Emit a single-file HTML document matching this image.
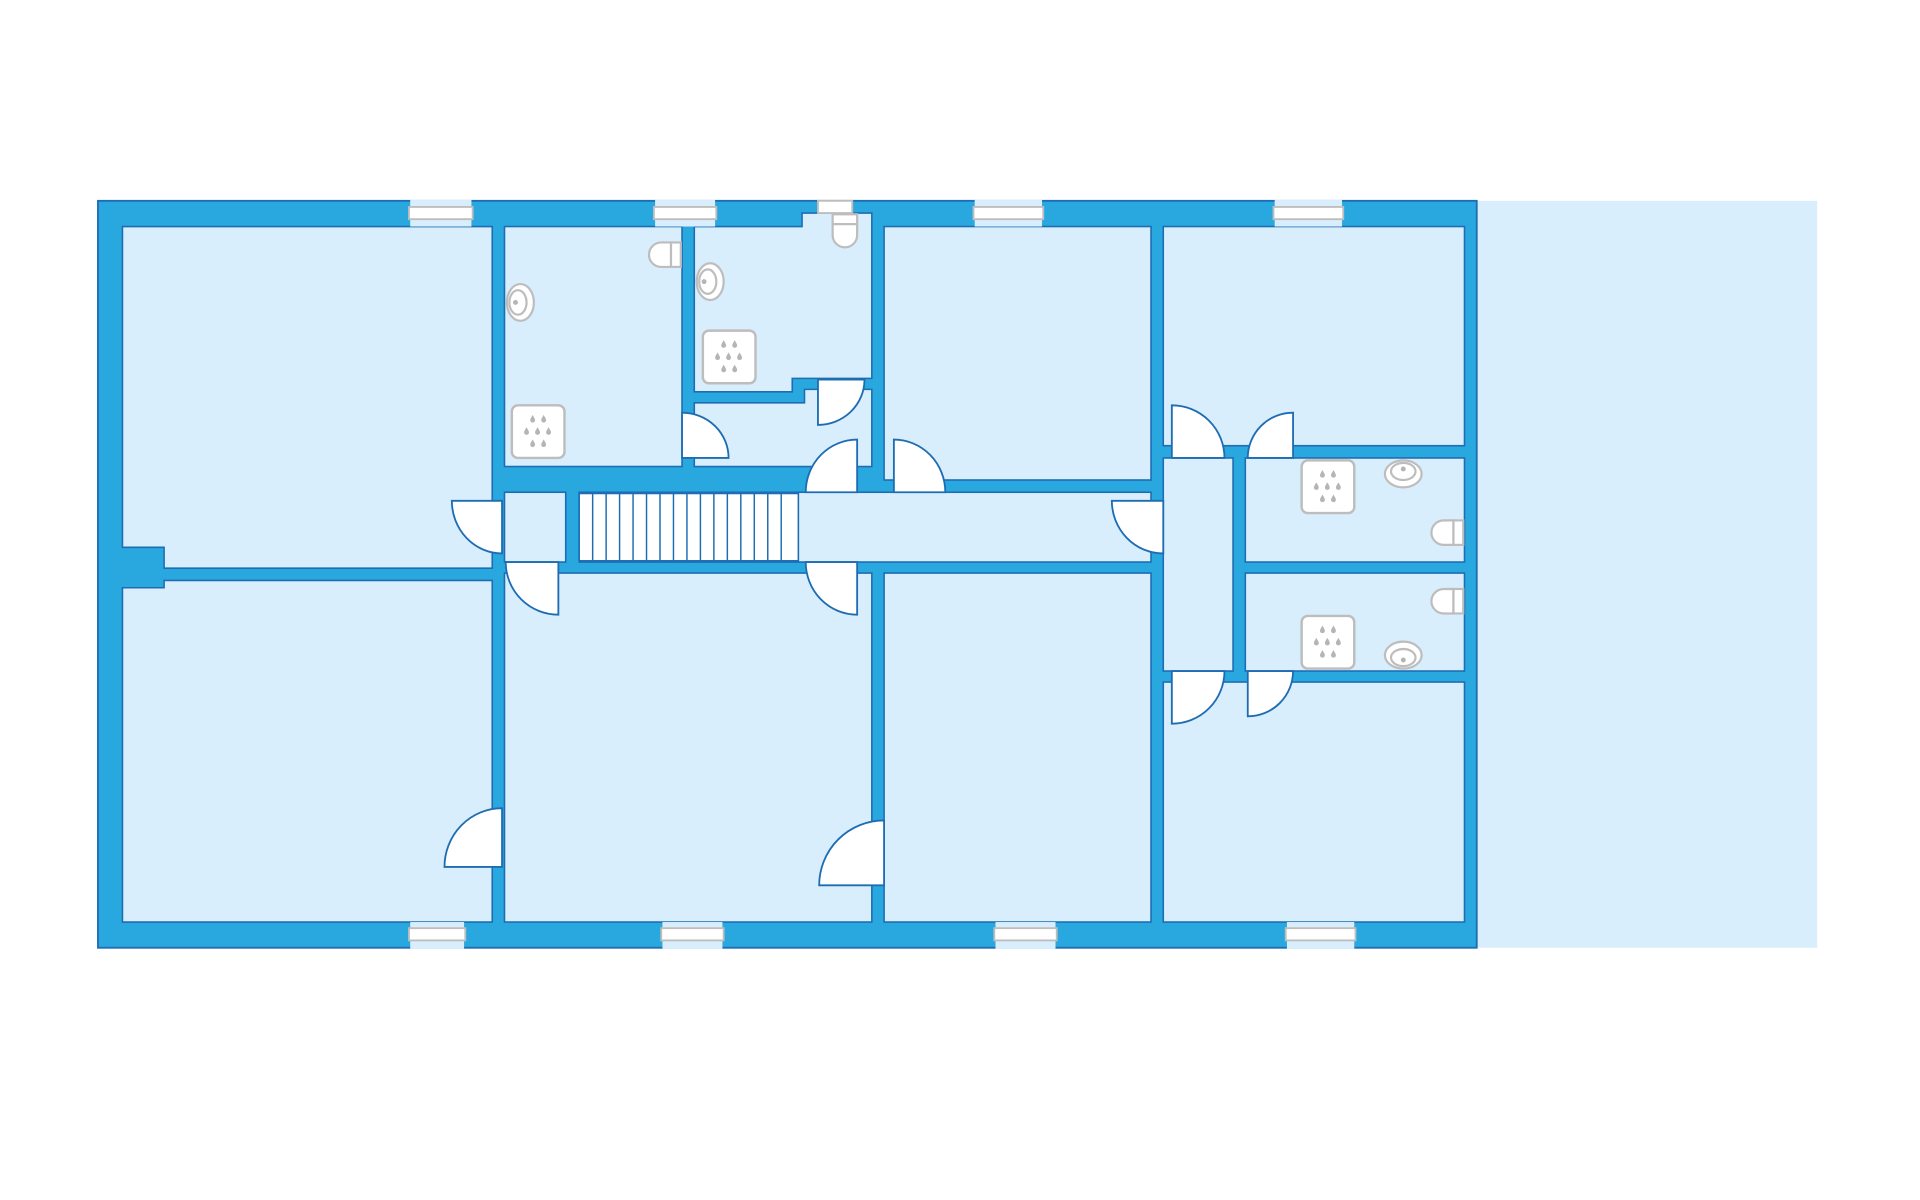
<!DOCTYPE html>
<html><head><meta charset="utf-8"><style>html,body{margin:0;padding:0;background:#fff;}svg{display:block}</style></head>
<body>
<svg width="1920" height="1200" viewBox="0 0 1568 980" xmlns="http://www.w3.org/2000/svg">
<defs>
<g id="drop"><path d="M0,-3.2 C1,-1.2 2,0 2,1.1 A2,2 0 0 1 -2,1.1 C-2,0 -1,-1.2 0,-3.2Z" fill="#b5b5b5"/></g>
<g id="shower">
<rect x="0" y="0" width="43" height="43" rx="5" fill="#fff" stroke="#bdbdbd" stroke-width="2"/>
<use href="#drop" x="17" y="11"/><use href="#drop" x="26" y="11"/>
<use href="#drop" x="12" y="21"/><use href="#drop" x="21" y="21"/><use href="#drop" x="30" y="21"/>
<use href="#drop" x="17" y="31"/><use href="#drop" x="26" y="31"/>
</g>
</defs>
<rect x="0" y="0" width="1568" height="980" fill="#fff"/>
<rect x="1206" y="164" width="278" height="610" fill="#d9eefc"/>
<rect x="80" y="164" width="1126" height="610" fill="#29a8e0" stroke="#1e6db3" stroke-width="1.5"/>
<g fill="#d9eefc" stroke="#1e6db3" stroke-width="1.3">
<polygon points="100,185 402,185 402,464 134,464 134,447 100,447"/>
<polygon points="100,480 134,480 134,474 402,474 402,753 100,753"/>
<rect x="412" y="185" width="145" height="196"/>
<polygon points="567,185 655,185 655,174 712,174 712,309 647,309 647,320 567,320"/>
<polygon points="567,329 657,329 657,318 712,318 712,381 567,381"/>
<rect x="722" y="185" width="218" height="207"/>
<rect x="412" y="402" width="50" height="57"/>
<rect x="473" y="402" width="467" height="57"/>
<rect x="412" y="468" width="300" height="285"/>
<rect x="722" y="468" width="218" height="285"/>
<rect x="950" y="185" width="246" height="179"/>
<rect x="950" y="374" width="57" height="174"/>
<rect x="1017" y="374" width="179" height="85"/>
<rect x="1017" y="468" width="179" height="80"/>
<rect x="950" y="557" width="246" height="196"/>
</g>
<g fill="#d9eefc">
<rect x="335" y="163" width="50" height="22"/><rect x="535" y="163" width="49" height="22"/>
<rect x="796" y="163" width="55" height="22"/><rect x="1041" y="163" width="55" height="22"/>
<rect x="335" y="753" width="44" height="22"/><rect x="541" y="753" width="49" height="22"/>
<rect x="813" y="753" width="49" height="22"/><rect x="1051" y="753" width="55" height="22"/>
</g>
<g fill="#fff" stroke="#bdbdbd" stroke-width="1.5">
<rect x="334" y="169" width="52" height="10"/><rect x="534" y="169" width="51" height="10"/>
<rect x="795" y="169" width="57" height="10"/><rect x="1040" y="169" width="57" height="10"/>
<rect x="334" y="758" width="46" height="10"/><rect x="540" y="758" width="51" height="10"/>
<rect x="812" y="758" width="51" height="10"/><rect x="1050" y="758" width="57" height="10"/>
<rect x="668" y="164" width="28" height="10"/>
</g>
<rect x="473" y="403" width="179" height="55" fill="#fff" stroke="#1e6db3" stroke-width="1.3"/>
<g stroke="#1e6db3" stroke-width="1.2">
<line x1="484" y1="403" x2="484" y2="458"/><line x1="495" y1="403" x2="495" y2="458"/><line x1="506" y1="403" x2="506" y2="458"/>
<line x1="517" y1="403" x2="517" y2="458"/><line x1="528" y1="403" x2="528" y2="458"/><line x1="539" y1="403" x2="539" y2="458"/>
<line x1="550" y1="403" x2="550" y2="458"/><line x1="561" y1="403" x2="561" y2="458"/><line x1="572" y1="403" x2="572" y2="458"/>
<line x1="583" y1="403" x2="583" y2="458"/><line x1="594" y1="403" x2="594" y2="458"/><line x1="605" y1="403" x2="605" y2="458"/>
<line x1="616" y1="403" x2="616" y2="458"/><line x1="627" y1="403" x2="627" y2="458"/><line x1="638" y1="403" x2="638" y2="458"/>
</g>
<g fill="#fff" stroke="#1e6db3" stroke-width="1.5">
<path d="M410,409 L369,409 A41,43 0 0 0 410,452 Z"/>
<path d="M456,459 L413,459 A43,43 0 0 0 456,502 Z"/>
<path d="M410,708 L410,660 A47,48 0 0 0 363,708 Z"/>
<path d="M557,374 L557,337 A38,37 0 0 1 595,374 Z"/>
<path d="M668,310 L706,310 A38,37 0 0 1 668,347 Z"/>
<path d="M700,402 L700,359 A42,43 0 0 0 658,402 Z"/>
<path d="M730,402 L730,359 A42,43 0 0 1 772,402 Z"/>
<path d="M700,459 L658,459 A42,43 0 0 0 700,502 Z"/>
<path d="M722,723 L722,670 A53,53 0 0 0 669,723 Z"/>
<path d="M950,409 L908,409 A42,43 0 0 0 950,452 Z"/>
<path d="M957,374 L957,331 A43,43 0 0 1 1000,374 Z"/>
<path d="M1056,374 L1056,337 A37,37 0 0 0 1019,374 Z"/>
<path d="M957,548 L1000,548 A43,43 0 0 1 957,591 Z"/>
<path d="M1019,548 L1056,548 A37,37 0 0 1 1019,585 Z"/>
</g>
<use href="#shower" x="418" y="331"/>
<use href="#shower" x="574" y="270"/>
<use href="#shower" x="1063" y="376"/>
<use href="#shower" x="1063" y="503"/>
<g fill="#fff" stroke="#bdbdbd" stroke-width="1.8">
<ellipse cx="425" cy="247" rx="11" ry="15"/><ellipse cx="423" cy="247" rx="7" ry="10"/>
<ellipse cx="580" cy="230" rx="11" ry="15"/><ellipse cx="578" cy="230" rx="7" ry="10"/>
<ellipse cx="1146" cy="387" rx="15" ry="11"/><ellipse cx="1146" cy="385" rx="10" ry="7"/>
<ellipse cx="1146" cy="535" rx="15" ry="11"/><ellipse cx="1146" cy="537" rx="10" ry="7"/>
</g>
<g fill="#b5b5b5">
<circle cx="421" cy="247" r="2"/><circle cx="575" cy="230" r="2"/><circle cx="1146" cy="383" r="2"/><circle cx="1146" cy="539" r="2"/>
</g>
<g fill="#fff" stroke="#bdbdbd" stroke-width="1.8">
<path d="M548,198 L540,198 A10,10 0 0 0 540,218 L548,218 Z"/><rect x="548" y="198" width="8" height="20"/>
<path d="M1187,425 L1179,425 A10,10 0 0 0 1179,445 L1187,445 Z"/><rect x="1187" y="425" width="8" height="20"/>
<path d="M1187,481 L1179,481 A10,10 0 0 0 1179,501 L1187,501 Z"/><rect x="1187" y="481" width="8" height="20"/>
<path d="M680,183 L680,192 A10,10 0 0 0 700,192 L700,183 Z"/><rect x="680" y="175" width="20" height="8"/>
</g>
</svg>
</body></html>
